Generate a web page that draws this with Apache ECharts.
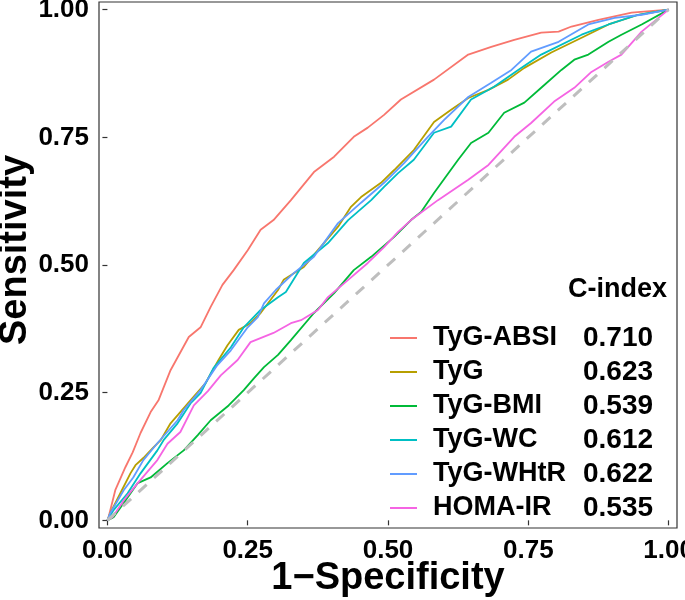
<!DOCTYPE html>
<html>
<head>
<meta charset="utf-8">
<script src="https://cdn.jsdelivr.net/npm/echarts@6/dist/echarts.min.js"></script>
<style>html,body{margin:0;padding:0;background:#fff;}#c{width:685px;height:600px;}</style>
</head>
<body>
<div id="c"></div>
<script>
const seriesNames = ['TyG-ABSI', 'TyG', 'TyG-BMI', 'TyG-WC', 'TyG-WHtR', 'HOMA-IR'];
const cIndex = ['0.710', '0.623', '0.539', '0.612', '0.622', '0.535'];
const tickValues = [0, 0.25, 0.5, 0.75, 1];

const tygAbsi = [[0,0],[0.002,0.006],[0.014,0.059],[0.032,0.104],[0.045,0.133],[0.059,0.171],[0.077,0.212],[0.091,0.235],[0.1125,0.294],[0.145,0.359],[0.166,0.378],[0.184,0.418],[0.205,0.461],[0.225,0.490],[0.25,0.529],[0.273,0.569],[0.296,0.588],[0.327,0.627],[0.368,0.682],[0.404,0.712],[0.439,0.751],[0.464,0.769],[0.493,0.794],[0.523,0.824],[0.582,0.863],[0.643,0.912],[0.684,0.927],[0.725,0.941],[0.773,0.955],[0.804,0.957],[0.827,0.967],[0.875,0.980],[0.934,0.994],[1,1]];
const tyg = [[0,0],[0.005,0.014],[0.023,0.053],[0.041,0.092],[0.05,0.108],[0.064,0.122],[0.082,0.143],[0.095,0.157],[0.1125,0.190],[0.148,0.235],[0.175,0.269],[0.198,0.314],[0.214,0.343],[0.234,0.373],[0.255,0.386],[0.273,0.406],[0.304,0.451],[0.314,0.471],[0.35,0.496],[0.375,0.529],[0.411,0.575],[0.434,0.614],[0.452,0.633],[0.4875,0.661],[0.511,0.686],[0.546,0.725],[0.582,0.780],[0.6125,0.804],[0.643,0.827],[0.679,0.843],[0.714,0.863],[0.743,0.886],[0.791,0.916],[0.845,0.945],[0.893,0.971],[0.946,0.990],[1,1]];
const tygBmi = [[0,0],[0.011,0.006],[0.036,0.045],[0.054,0.073],[0.077,0.084],[0.107,0.112],[0.136,0.137],[0.161,0.167],[0.184,0.196],[0.216,0.225],[0.243,0.255],[0.261,0.278],[0.279,0.300],[0.304,0.324],[0.327,0.353],[0.368,0.406],[0.404,0.445],[0.439,0.490],[0.470,0.516],[0.511,0.555],[0.541,0.588],[0.559,0.604],[0.582,0.641],[0.625,0.706],[0.648,0.739],[0.679,0.759],[0.707,0.798],[0.743,0.818],[0.773,0.847],[0.809,0.882],[0.832,0.902],[0.857,0.912],[0.893,0.937],[0.916,0.951],[0.952,0.971],[1,1]];
const tygWc = [[0,0],[0.011,0.020],[0.036,0.053],[0.059,0.092],[0.089,0.137],[0.1,0.157],[0.125,0.190],[0.148,0.229],[0.166,0.249],[0.189,0.298],[0.220,0.339],[0.243,0.378],[0.273,0.412],[0.304,0.437],[0.318,0.447],[0.35,0.504],[0.393,0.543],[0.429,0.588],[0.470,0.627],[0.493,0.653],[0.518,0.680],[0.546,0.706],[0.582,0.759],[0.6125,0.771],[0.648,0.824],[0.689,0.849],[0.732,0.882],[0.773,0.912],[0.845,0.951],[0.893,0.971],[0.946,0.990],[1,1]];
const tygWhtr = [[0,0],[0.005,0.014],[0.029,0.059],[0.046,0.084],[0.064,0.118],[0.089,0.151],[0.125,0.196],[0.136,0.216],[0.166,0.255],[0.196,0.304],[0.220,0.333],[0.25,0.378],[0.268,0.398],[0.279,0.425],[0.3,0.451],[0.332,0.484],[0.368,0.516],[0.411,0.582],[0.452,0.622],[0.493,0.661],[0.529,0.700],[0.571,0.751],[0.6,0.784],[0.643,0.829],[0.684,0.857],[0.720,0.882],[0.755,0.918],[0.804,0.937],[0.857,0.971],[0.904,0.984],[0.952,0.990],[1,1]];
const homaIr = [[0,0],[0.009,0.006],[0.029,0.039],[0.054,0.073],[0.089,0.118],[0.107,0.150],[0.130,0.173],[0.154,0.225],[0.179,0.253],[0.202,0.284],[0.232,0.314],[0.255,0.349],[0.296,0.367],[0.327,0.386],[0.345,0.392],[0.375,0.412],[0.393,0.437],[0.429,0.471],[0.464,0.504],[0.493,0.535],[0.518,0.565],[0.541,0.588],[0.589,0.627],[0.643,0.667],[0.679,0.696],[0.725,0.751],[0.755,0.778],[0.796,0.820],[0.832,0.847],[0.8625,0.878],[0.893,0.898],[0.916,0.912],[0.952,0.957],[1,1]];
const diagonal = [[0,0],[1,1]];

const seriesData = [tygAbsi, tyg, tygBmi, tygWc, tygWhtr, homaIr];
const colors = ['#F8766D', '#B79F00', '#00BA38', '#00BFC4', '#619CFF', '#F564E3'];

const FONT = '"Liberation Sans", Arial, Helvetica, sans-serif';
const chart = echarts.init(document.getElementById('c'), null, {renderer: 'canvas'});

const series = seriesNames.map((n, i) => ({
  name: n, type: 'line', data: seriesData[i], showSymbol: false, symbol: 'none',
  lineStyle: {color: colors[i], width: 1.8}, itemStyle: {color: colors[i]},
  animation: false, z: 2 + i, emphasis: {disabled: true}
}));
series.push({
  name: 'ref', type: 'line', data: diagonal, showSymbol: false, symbol: 'none',
  lineStyle: {color: '#BEBEBE', width: 3, type: [11, 10]}, animation: false, z: 10,
  emphasis: {disabled: true}
});

const axisCommon = {
  type: 'value', min: -0.015, max: 1.015,
  axisLine: {show: false},
  splitLine: {show: false},
  axisTick: {show: true, length: 5, customValues: tickValues, lineStyle: {color: '#333', width: 1.2}},
  axisLabel: {customValues: tickValues, formatter: v => v.toFixed(2), color: '#000',
    fontFamily: FONT, fontWeight: 'bold', fontSize: 26, margin: 10}
};

const labelMap = {};
seriesNames.forEach((n, i) => labelMap[n] = cIndex[i]);

chart.setOption({
  animation: false,
  grid: {left: 99, right: 8, top: 2, bottom: 72, show: true, borderColor: '#333', borderWidth: 1.2,
    backgroundColor: '#fff', containLabel: false, outerBoundsMode: 'none'},
  xAxis: Object.assign({}, axisCommon),
  yAxis: Object.assign({}, axisCommon),
  legend: {
    data: seriesNames, orient: 'vertical', left: 385, top: 319,
    icon: 'rect', itemWidth: 27, itemHeight: 2, itemGap: 6, selectedMode: false,
    formatter: name => '{n|' + name + '}{v|' + labelMap[name] + '}',
    textStyle: {
      fontFamily: FONT, fontWeight: 'bold', fontSize: 27, color: '#000',
      rich: {
        n: {fontFamily: FONT, fontWeight: 'bold', fontSize: 27, color: '#000', width: 150, padding: [0, 0, 0, 11], lineHeight: 28},
        v: {fontFamily: FONT, fontWeight: 'bold', fontSize: 28, color: '#000', lineHeight: 28}
      }
    }
  },
  graphic: [
    {type: 'text', left: 568, top: 276, style: {text: 'C-index', font: 'bold 27px ' + FONT, fill: '#000'}},
    {type: 'text', x: 16, y: 250, rotation: Math.PI / 2,
      style: {text: 'Sensitivity', font: 'bold 38px ' + FONT, fill: '#000', align: 'center', verticalAlign: 'middle'}},
    {type: 'text', x: 388, y: 579,
      style: {text: '1\u2212Specificity', font: 'bold 38px ' + FONT, fill: '#000', align: 'center', verticalAlign: 'middle'}}
  ],
  series: series
});
</script>
</body>
</html>
